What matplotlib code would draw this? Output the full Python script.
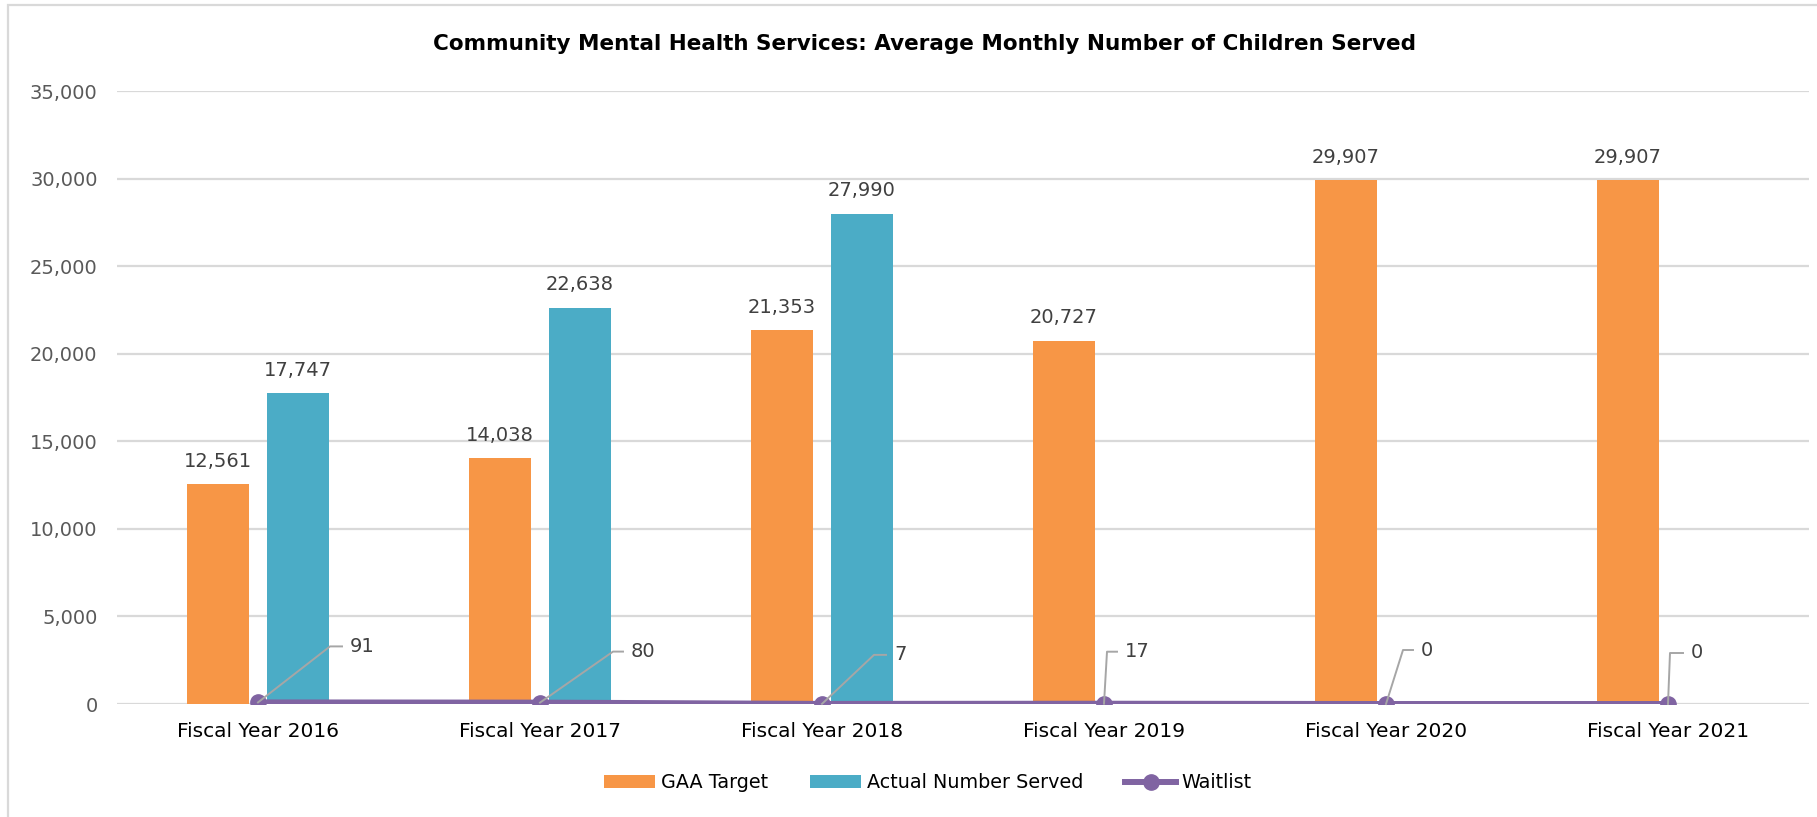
import matplotlib.pyplot as plt
import numpy as np
from matplotlib.lines import Line2D
from matplotlib.patches import Rectangle, Patch
from matplotlib.transforms import IdentityTransform

# data
categories = ['Fiscal Year 2016', 'Fiscal Year 2017', 'Fiscal Year 2018',
              'Fiscal Year 2019', 'Fiscal Year 2020', 'Fiscal Year 2021']
gaa_target = [12561, 14038, 21353, 20727, 29907, 29907]
actual_served = [17747, 22638, 27990, None, None, None]
waitlist = [91, 80, 7, 17, 0, 0]

# leader line offsets for waitlist labels (pixels: elbow dx, elbow dy, horizontal run)
leaders = [(72, 56, 12), (73, 51, 10), (52, 49, 12), (3, 52, 10), (17, 54, 10), (2, 51, 13)]

orange = '#F79646'
blue = '#4BACC6'
purple = '#8064A2'
grid_col = '#D9D9D9'

plt.rcParams['font.family'] = ['DejaVu Sans']

W, H = 1817, 817
fig = plt.figure(figsize=(W / 100, H / 100), dpi=100)
ax = fig.add_axes([117 / W, (H - 704) / H, (1809 - 117) / W, (704 - 91) / H])

x = np.arange(len(categories))
bw = 0.223
off = 0.142

ax.bar(x - off, gaa_target, width=bw, color=orange, zorder=2)
served_x = [i + off for i, v in enumerate(actual_served) if v is not None]
served_v = [v for v in actual_served if v is not None]
ax.bar(served_x, served_v, width=bw, color=blue, zorder=2)

ax.plot(x, waitlist, color=purple, lw=4.3, marker='o', ms=11, zorder=4,
        solid_capstyle='round')

ax.set_xlim(-0.5, len(categories) - 0.5)
ax.set_ylim(0, 35000)
ax.set_yticks(np.arange(0, 35001, 5000))
ax.set_yticklabels([f'{v:,}' for v in range(0, 35001, 5000)])
ax.set_xticks(x)
ax.set_xticklabels(categories)
ax.tick_params(axis='y', length=0, pad=14, labelsize=14, labelcolor='#595959')
ax.tick_params(axis='x', length=0, pad=13, labelsize=14.5, labelcolor='#000000')
ax.grid(axis='y', color=grid_col, lw=1.6, zorder=0)
ax.set_axisbelow(True)
for s in ax.spines.values():
    s.set_visible(False)

# value labels above bars
for xi, v in zip(x - off, gaa_target):
    ax.annotate(f'{v:,}', (xi, v), xytext=(0, 23), textcoords='offset pixels',
                ha='center', va='center', fontsize=14, color='#404040')
for xi, v in zip(served_x, served_v):
    ax.annotate(f'{v:,}', (xi, v), xytext=(0, 23), textcoords='offset pixels',
                ha='center', va='center', fontsize=14, color='#404040')

# waitlist labels with elbow leader lines
for xi, v, (ex, ey, hx) in zip(x, waitlist, leaders):
    px, py = ax.transData.transform((xi, v))
    xs = [px, px + ex, px + ex + hx]
    ys = [py, py + ey, py + ey]
    fig.add_artist(Line2D(xs, ys, transform=IdentityTransform(), color='#A6A6A6',
                          lw=1.4, zorder=5))
    fig.text((px + ex + hx + 8) / W, (py + ey) / H, f'{v:,}', ha='left', va='center',
             fontsize=14, color='#404040')

fig.text(0.5 * (429 + 1420) / W, 1 - 44 / H,
         'Community Mental Health Services: Average Monthly Number of Children Served',
         ha='center', va='center', fontsize=15.5, fontweight='bold', color='#000000')

handles = [Patch(facecolor=orange, label='GAA Target'),
           Patch(facecolor=blue, label='Actual Number Served'),
           Line2D([], [], color=purple, lw=4.3, marker='o', ms=11, label='Waitlist')]
fig.legend(handles=handles, loc='center', bbox_to_anchor=(928 / W, 1 - 783 / H),
           ncol=3, frameon=False, fontsize=13.8, handlelength=2.65, handleheight=0.63,
           handletextpad=0.3, columnspacing=2.2)

# chart border
fig.add_artist(Rectangle((8 / W, -0.02), 1.0, (H - 5) / H + 0.02, transform=fig.transFigure,
                         fill=False, edgecolor=grid_col, lw=1.6))

fig.savefig('out.png', dpi=100)
